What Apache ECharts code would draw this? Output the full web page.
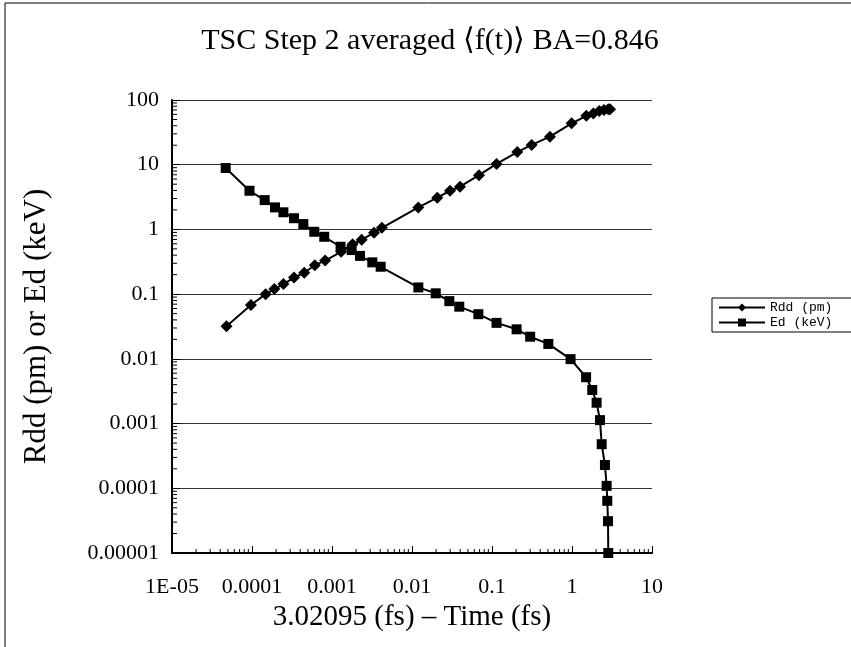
<!DOCTYPE html>
<html>
<head>
<meta charset="utf-8">
<script src="https://cdn.jsdelivr.net/npm/echarts@6/dist/echarts.min.js"></script>
<style>
  html, body { margin: 0; padding: 0; background: #fff; }
  #echart-box { width: 851px; height: 647px; }
</style>
</head>
<body>
<div id="echart-box"></div>
<script>
// Rdd (pm) curve
var rddX = [4.8e-5, 9.7e-5, 1.48e-4, 1.9e-4, 2.47e-4, 3.35e-4, 4.5e-4, 6.1e-4, 8.2e-4, 1.3e-3,
            1.81e-3, 2.35e-3, 3.35e-3, 4.2e-3, 0.012, 0.0207, 0.0299, 0.0398, 0.0688, 0.114,
            0.207, 0.313, 0.53, 0.99, 1.51, 1.85, 2.19, 2.51, 2.84, 2.99];
var rddY = [0.032, 0.068, 0.1, 0.12, 0.143, 0.18, 0.214, 0.28, 0.33, 0.45,
            0.59, 0.69, 0.89, 1.06, 2.19, 3.09, 3.96, 4.57, 6.9, 10.3,
            15.7, 20.2, 27.1, 43.6, 57, 62, 67.6, 70, 71.8, 72];
// Ed (keV) curve
var edX = [4.69e-5, 9.3e-5, 1.44e-4, 1.94e-4, 2.47e-4, 3.35e-4, 4.38e-4, 6.0e-4, 8.0e-4, 1.28e-3,
           1.76e-3, 2.24e-3, 3.19e-3, 4.06e-3, 0.012, 0.0198, 0.0293, 0.039, 0.0675, 0.114,
           0.203, 0.3, 0.506, 0.96, 1.5, 1.79, 2.03, 2.24, 2.35, 2.58, 2.71, 2.76, 2.82, 2.84];
var edY = [8.9, 3.96, 2.84, 2.19, 1.84, 1.49, 1.21, 0.92, 0.77, 0.54,
           0.48, 0.39, 0.31, 0.265, 0.127, 0.103, 0.078, 0.064, 0.049, 0.036,
           0.0286, 0.022, 0.017, 0.0099, 0.0052, 0.0033, 0.0021, 0.00113, 0.00048, 0.000229,
           0.000109, 6.4e-5, 3.1e-5, 1e-5];

var xTickLabels = {'0.00001': '1E-05', '0.0001': '0.0001', '0.001': '0.001', '0.01': '0.01', '0.1': '0.1', '1': '1', '10': '10'};
var yTickLabels = {'0.00001': '0.00001', '0.0001': '0.0001', '0.001': '0.001', '0.01': '0.01', '0.1': '0.1', '1': '1', '10': '10', '100': '100'};
var xDecades = [1e-5, 1e-4, 1e-3, 1e-2, 1e-1, 1];
var yDecades = [1e-5, 1e-4, 1e-3, 1e-2, 1e-1, 1, 10];
var minorSteps = [2, 3, 4, 5, 6, 7, 8, 9];

function init() {
    const element = document.getElementById("echart-box");
    const instance = echarts.init(element);

    function pairs(xs, ys) {
      var out = [];
      for (var i = 0; i < xs.length; i++) out.push([xs[i], ys[i]]);
      return out;
    }
    function fmt(map) {
      return function (v) {
        var key = String(Number(v.toPrecision(6)));
        if (v < 0.001) key = '0.' + '0'.repeat(Math.round(-Math.log10(v)) - 1) + '1';
        return map[key] !== undefined ? map[key] : '';
      };
    }

    var xMinor = [], yMinor = [];
    xDecades.forEach(function (d) {
      minorSteps.forEach(function (k) { xMinor.push([k * d, 1e-5]); });
    });
    yDecades.forEach(function (d) {
      minorSteps.forEach(function (k) { yMinor.push([1e-5, k * d]); });
    });

    // minor log ticks, placed through the axes' own scales
    function tickSeries(data, horiz) {
      return {
        type: 'custom',
        silent: true,
        clip: false,
        z: 5,
        encode: { x: 0, y: 1 },
        data: data,
        renderItem: function (params, api) {
          var p = api.coord([api.value(0), api.value(1)]);
          var shape = horiz
            ? { x1: p[0], y1: p[1], x2: p[0], y2: p[1] - 4 }
            : { x1: p[0], y1: p[1], x2: p[0] + 5, y2: p[1] };
          return { type: 'line', shape: shape, style: { stroke: '#000', lineWidth: 1 } };
        }
      };
    }

    var serif = 'Liberation Serif';

    option = {
      backgroundColor: '#fff',
      animation: false,
      title: {
        text: 'TSC Step 2 averaged \u27E8f(t)\u27E9 BA=0.846',
        left: 425,
        textAlign: 'center',
        top: 21,
        textStyle: { fontFamily: serif, fontSize: 30, fontWeight: 'normal', color: '#000' }
      },
      graphic: [{
        type: 'rect',
        shape: { x: 5, y: 3, width: 900, height: 700 },
        style: { fill: 'none', stroke: '#000', lineWidth: 1 },
        silent: true
      }],
      legend: {
        data: ['Rdd (pm)', 'Ed (keV)'],
        orient: 'vertical',
        left: 712,
        top: 298,
        itemGap: 2,
        itemWidth: 46,
        itemHeight: 10,
        padding: [3, 40, 3, 6],
        borderColor: '#000',
        borderWidth: 1,
        borderRadius: 0,
        textStyle: { fontFamily: 'Liberation Mono', fontSize: 13, color: '#000' }
      },
      grid: {
        left: 172,
        right: 199,
        top: 100,
        bottom: 94
      },
      xAxis: {
        type: 'log',
        logBase: 10,
        min: 1e-5,
        max: 10,
        interval: 1,
        name: '3.02095 (fs) \u2013 Time (fs)',
        nameLocation: 'middle',
        nameGap: 48,
        nameTextStyle: { fontFamily: serif, fontSize: 29, color: '#000' },
        axisLine: { lineStyle: { color: '#000', width: 2 } },
        axisTick: { inside: true, length: 7, lineStyle: { color: '#000', width: 1 } },
        axisLabel: { fontFamily: serif, fontSize: 22, color: '#000', margin: 23, formatter: fmt(xTickLabels) },
        splitLine: { show: false }
      },
      yAxis: {
        type: 'log',
        logBase: 10,
        min: 1e-5,
        max: 100,
        interval: 1,
        name: 'Rdd (pm) or Ed (keV)',
        nameLocation: 'middle',
        nameGap: 120,
        nameTextStyle: { fontFamily: serif, fontSize: 31, color: '#000' },
        axisLine: { lineStyle: { color: '#000', width: 2 } },
        axisTick: { inside: true, length: 8, lineStyle: { color: '#000', width: 1 } },
        axisLabel: { fontFamily: serif, fontSize: 22, color: '#000', margin: 13, formatter: fmt(yTickLabels) },
        splitLine: { show: true, lineStyle: { color: '#333', width: 1 } }
      },
      series: [
        {
          name: 'Rdd (pm)',
          type: 'line',
          data: pairs(rddX, rddY),
          symbol: 'diamond',
          symbolSize: 12,
          lineStyle: { color: '#000', width: 2 },
          itemStyle: { color: '#000' },
          z: 3
        },
        {
          name: 'Ed (keV)',
          type: 'line',
          data: pairs(edX, edY),
          symbol: 'rect',
          symbolSize: 10,
          lineStyle: { color: '#000', width: 2 },
          itemStyle: { color: '#000' },
          z: 3
        },
        tickSeries(xMinor, true),
        tickSeries(yMinor, false)
      ]
    };
    option && instance.setOption(option);

    window.onresize = function () {
        instance.resize();
    };
}
init();
</script>
</body>
</html>
